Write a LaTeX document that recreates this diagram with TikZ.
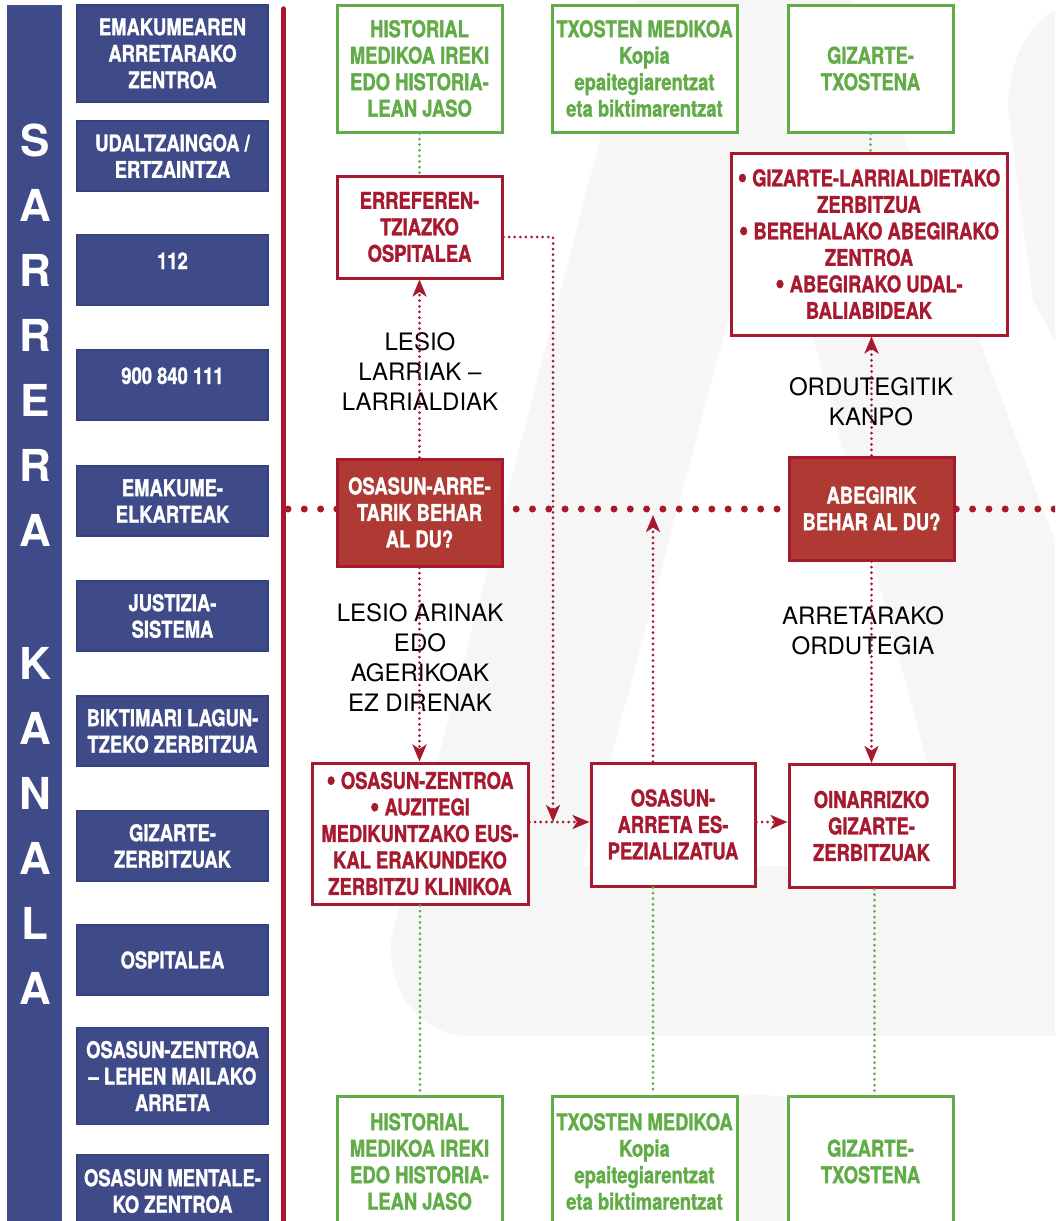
\documentclass[tikz,border=0pt]{standalone}
\usepackage{fontspec}
\setmainfont{TeX Gyre Heros}
\newfontfamily\condf[FakeStretch=0.80,FakeBold=1.2]{TeX Gyre Heros}
\usetikzlibrary{arrows.meta}
\definecolor{blueC}{RGB}{63,74,136}
\definecolor{blueD}{RGB}{55,66,125}
\definecolor{redC}{RGB}{166,25,46}
\definecolor{brickC}{RGB}{175,58,52}
\definecolor{greenC}{RGB}{98,172,72}
\definecolor{wmC}{RGB}{246,246,246}
\newcommand\mybxfont{\condf\bfseries\fontsize{23}{26.5}\selectfont}
\newcommand\mylblfont{\fontsize{24}{30}\selectfont}
\newcommand\mybigfont{\bfseries\fontsize{44}{50}\selectfont}
\newcommand\mybul{\raisebox{-1.8pt}{\scalebox{1.45}{•}}}
\tikzset{
  bluebox/.style={fill=blueC, draw=blueD, line width=1.5pt, text=white, font=\mybxfont, align=center, inner sep=0pt, minimum width=191pt},
  redbox/.style={fill=white, draw=redC, line width=3pt, text=redC, font=\mybxfont, align=center, inner sep=0pt},
  greenbox/.style={fill=white, draw=greenC, line width=3pt, text=greenC, font=\mybxfont, align=center, inner sep=0pt},
  decbox/.style={fill=brickC, draw=redC, line width=3pt, text=white, font=\mybxfont, align=center, inner sep=0pt},
  raisedtxt/.style={text height=16pt, text depth=18pt},
  lbl/.style={font=\mylblfont, align=center, text=black, inner sep=0pt},
  barletter/.style={font=\mybigfont, text=white, inner sep=0pt},
  rdots/.style={draw=redC, line width=3pt, line cap=round, dash pattern=on 0pt off 5.6pt},
  gdots/.style={draw=greenC, line width=3pt, line cap=round, dash pattern=on 0pt off 5.6pt},
  bigdots/.style={draw=redC, line width=7pt, line cap=round, dash pattern=on 0pt off 16.3pt},
  arr/.style={-{Stealth[length=17pt,width=14pt,inset=4.5pt]}},
}
\begin{document}
\begin{tikzpicture}[x=1pt,y=-1pt]
\useasboundingbox (0,0) rectangle (1055,1221);
\clip (0,0) rectangle (1055,1221);
\fill[white] (0,0) rectangle (1055,1221);
% watermark
\fill[wmC, even odd rule] (638,-5) -- (850,-5) -- (1060,555) -- (1060,1036) -- (470,1036)
   .. controls (420,1036) and (385,990) .. (392,935) -- cycle
   (768,170) -- (955,866) -- (582,866) -- cycle;
\fill[wmC] (1060,-5) -- (1060,350) -- (1033,300) -- (1008,110) .. controls (1008,60) and (1030,20) .. (1060,8) -- cycle;
\fill[wmC] (759,1250) ellipse [x radius=157, y radius=155];
% left bar
\fill[blueC] (7,5) rectangle (62,1230);
\foreach \l/\yy [count=\i] in {S/140,A/205,R/270,R/335,E/400,R/465,A/530,K/663,A/728,N/793,A/858,L/923,A/988}
  \node[barletter] (let\i) at (35,\yy) {\l};
% red line
\draw[redC, line width=5.5pt, line cap=round] (283.5,9) -- (283.5,1235);
% big dotted line
\coordinate (hl0) at (288,509);
\coordinate (hl1) at (1070,509);
\draw[bigdots] (hl0) -- (hl1);
% blue boxes
\node[bluebox, minimum height=97pt] (b1) at (172.5,53.5) {EMAKUMEAREN\\ARRETARAKO\\ZENTROA};
\node[bluebox, minimum height=70pt] (b2) at (172.5,156) {UDALTZAINGOA /\\ERTZAINTZA};
\node[bluebox, minimum height=70pt, raisedtxt] (b3) at (172.5,270) {112};
\node[bluebox, minimum height=70pt, raisedtxt] (b4) at (172.5,385) {900 840 111};
\node[bluebox, minimum height=70pt] (b5) at (172.5,501) {EMAKUME-\\ELKARTEAK};
\node[bluebox, minimum height=70pt] (b6) at (172.5,616) {JUSTIZIA-\\SISTEMA};
\node[bluebox, minimum height=70pt] (b7) at (172.5,731) {BIKTIMARI LAGUN-\\TZEKO ZERBITZUA};
\node[bluebox, minimum height=70pt] (b8) at (172.5,846) {GIZARTE-\\ZERBITZUAK};
\node[bluebox, minimum height=70pt] (b9) at (172.5,960) {OSPITALEA};
\node[bluebox, minimum height=97pt] (b10) at (172.5,1076) {OSASUN-ZENTROA\\– LEHEN MAILAKO\\ARRETA};
\node[bluebox, minimum height=72pt] (b11) at (172.5,1191) {OSASUN MENTALE-\\KO ZENTROA};
% green boxes top
\node[greenbox, minimum width=165pt, minimum height=127pt] (g1t) at (419.5,68.5) {HISTORIAL\\MEDIKOA IREKI\\EDO HISTORIA-\\LEAN JASO};
\node[greenbox, minimum width=185pt, minimum height=127pt] (g2t) at (644.5,68.5) {TXOSTEN MEDIKOA\\Kopia\\epaitegiarentzat\\eta biktimarentzat};
\node[greenbox, minimum width=165pt, minimum height=127pt] (g3t) at (870.5,68.5) {GIZARTE-\\TXOSTENA};
% green boxes bottom
\node[greenbox, minimum width=165pt, minimum height=131pt] (g1b) at (419.5,1161.5) {HISTORIAL\\MEDIKOA IREKI\\EDO HISTORIA-\\LEAN JASO};
\node[greenbox, minimum width=185pt, minimum height=131pt] (g2b) at (644.5,1161.5) {TXOSTEN MEDIKOA\\Kopia\\epaitegiarentzat\\eta biktimarentzat};
\node[greenbox, minimum width=165pt, minimum height=131pt] (g3b) at (870.5,1161.5) {GIZARTE-\\TXOSTENA};
% red boxes
\node[redbox, minimum width=165pt, minimum height=102pt] (erref) at (419.5,227) {ERREFEREN-\\TZIAZKO\\OSPITALEA};
\node[redbox, minimum width=276pt, minimum height=182pt] (larri) at (869,244) {\mybul\ GIZARTE-LARRIALDIETAKO\\ZERBITZUA\\\mybul\ BEREHALAKO ABEGIRAKO\\ZENTROA\\\mybul\ ABEGIRAKO UDAL-\\BALIABIDEAK};
\node[decbox, minimum width=165pt, minimum height=107pt] (oar) at (419.5,512.5) {OSASUN-ARRE-\\TARIK BEHAR\\AL DU?};
\node[decbox, minimum width=165pt, minimum height=103pt] (abe) at (871.5,508.5) {ABEGIRIK\\BEHAR AL DU?};
\node[redbox, minimum width=216pt, minimum height=141pt] (oz) at (420,833.5) {\mybul\ OSASUN-ZENTROA\\\mybul\ AUZITEGI\\MEDIKUNTZAKO EUS-\\KAL ERAKUNDEKO\\ZERBITZU KLINIKOA};
\node[redbox, minimum width=164pt, minimum height=123pt] (oae) at (673,824.5) {OSASUN-\\ARRETA ES-\\PEZIALIZATUA};
\node[redbox, minimum width=165pt, minimum height=123pt] (oin) at (871.5,826) {OINARRIZKO\\GIZARTE-\\ZERBITZUAK};
% labels
\node[lbl] (l1) at (420,372) {LESIO\\LARRIAK –\\LARRIALDIAK};
\node[lbl] (l2) at (420,657.5) {LESIO ARINAK\\EDO\\AGERIKOAK\\EZ DIRENAK};
\node[lbl] (l3) at (871,402) {ORDUTEGITIK\\KANPO};
\node[lbl] (l4) at (863,631) {ARRETARAKO\\ORDUTEGIA};
% helper coordinates
\coordinate (yE) at (0,237);
\coordinate (xE) at (553,0);
\coordinate (yH) at (0,822);
\coordinate (xU) at (653,0);
\coordinate (yU) at (0,515);
\coordinate (xG) at (874.5,0);
% green connectors
\draw[gdots] (g1t.south) -- (erref.north);
\draw[gdots] (g3t.south) -- (g3t.south |- larri.north);
\draw[gdots] (oz.south) -- (oz.south |- g1b.north);
\draw[gdots] (oae.south -| xU) -- (xU |- g2b.north);
\draw[gdots] (oin.south -| xG) -- (xG |- g3b.north);
% red connectors
\draw[rdots, arr] (oar.north) -- (oar.north |- erref.south);
\draw[rdots, arr] (oar.south) -- (oar.south |- oz.north);
\draw[rdots, arr] (erref.east |- yE) -| (xE |- yH);
\draw[rdots, arr] (oz.east |- yH) -- (oae.west |- yH);
\draw[rdots, arr] (oae.north -| xU) -- (xU |- yU);
\draw[rdots, arr] (oae.east |- yH) -- (oin.west |- yH);
\draw[rdots, arr] (abe.north) -- (abe.north |- larri.south);
\draw[rdots, arr] (abe.south) -- (abe.south |- oin.north);
\end{tikzpicture}
\end{document}
